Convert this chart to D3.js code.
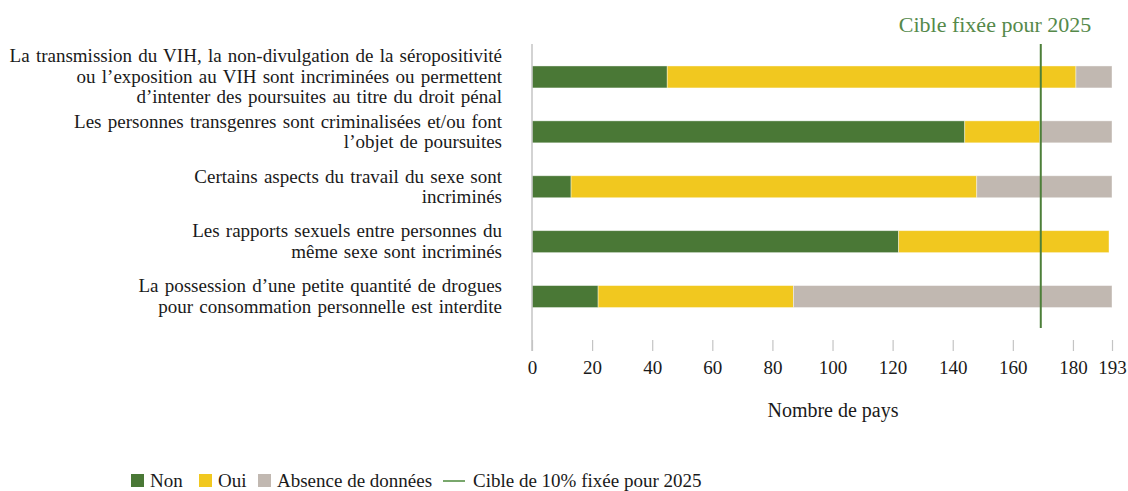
<!DOCTYPE html>
<html>
<head>
<meta charset="utf-8">
<script src="https://cdn.jsdelivr.net/npm/d3@7"></script>
<style>
  body { margin: 0; background: #fff; }
  text { font-family: "Liberation Serif", "Times New Roman", serif; fill: #1a1a1a; }
</style>
</head>
<body>
<div id="chart"></div>
<script>
// categories (one line per array entry)
var categories = [
  ["La transmission du VIH, la non-divulgation de la séropositivité",
   "ou l’exposition au VIH sont incriminées ou permettent",
   "d’intenter des poursuites au titre du droit pénal"],
  ["Les personnes transgenres sont criminalisées et/ou font",
   "l’objet de poursuites"],
  ["Certains aspects du travail du sexe sont",
   "incriminés"],
  ["Les rapports sexuels entre personnes du",
   "même sexe sont incriminés"],
  ["La possession d’une petite quantité de drogues",
   "pour consommation personnelle est interdite"]
];
var nonValues = [45, 144, 13, 122, 22];
var ouiValues = [136, 25, 135, 70, 65];
var absenceValues = [12, 24, 45, 0, 106];
var seriesNames = ["Non", "Oui", "Absence de données"];
var seriesColors = ["#4a7836", "#f1c81f", "#c1b8b1"];
var tickValues = [0, 20, 40, 60, 80, 100, 120, 140, 160, 180, 193];
var targetValue = 169.3;

var svgWidth = 1128, svgHeight = 491;

var svg = d3.select("#chart").append("svg")
  .attr("width", svgWidth)
  .attr("height", svgHeight);

var x = d3.scaleLinear().domain([0, 193]).range([532, 1112]);
var y = d3.scaleBand()
  .domain(d3.range(categories.length))
  .range([49.5, 324])
  .paddingInner(0.6)
  .paddingOuter(0.3);

// stacked data
var rows = categories.map(function(c, i) {
  return { i: i, Non: nonValues[i], Oui: ouiValues[i], "Absence de données": absenceValues[i] };
});
var stack = d3.stack().keys(seriesNames)(rows);

svg.append("g").selectAll("g")
  .data(stack)
  .enter().append("g")
  .attr("fill", (d, k) => seriesColors[k])
  .selectAll("rect")
  .data(d => d)
  .enter().append("rect")
  .attr("x", d => x(d[0]))
  .attr("y", d => y(d.data.i))
  .attr("width", d => x(d[1]) - x(d[0]))
  .attr("height", y.bandwidth())
  .attr("stroke", "#ffffff")
  .attr("stroke-opacity", 0.5)
  .attr("stroke-width", 0.8);

// vertical axis line
svg.append("line")
  .attr("x1", x(0)).attr("x2", x(0))
  .attr("y1", 44).attr("y2", 351)
  .attr("stroke", "#c4c4c4")
  .attr("stroke-width", 1.5);

// bottom ticks (no baseline)
var xAxis = d3.axisBottom(x).tickValues(tickValues).tickSize(11).tickPadding(10);
var axisG = svg.append("g")
  .attr("transform", "translate(0,340)")
  .call(xAxis);
axisG.select(".domain").remove();
axisG.selectAll(".tick line").attr("stroke", "#c4c4c4").attr("stroke-width", 1.2);
axisG.selectAll(".tick text")
  .style("font-family", "'Liberation Serif', serif")
  .style("font-size", "19px")
  .attr("fill", "#1a1a1a");

svg.append("text")
  .attr("x", 833).attr("y", 417)
  .attr("text-anchor", "middle")
  .style("font-size", "20px")
  .text("Nombre de pays");

// category labels
var lineH = 20.5;
var labelG = svg.append("g");
categories.forEach(function(lines, i) {
  var cy = y(i) + y.bandwidth() / 2;
  var t = labelG.append("text")
    .attr("text-anchor", "end")
    .style("font-size", "19px")
    .style("word-spacing", "1.5px");
  lines.forEach(function(l, j) {
    t.append("tspan")
      .attr("x", 502)
      .attr("y", cy + (j - (lines.length - 1) / 2) * lineH + 6)
      .text(l);
  });
});

// target line
svg.append("line")
  .attr("x1", x(targetValue)).attr("x2", x(targetValue))
  .attr("y1", 44).attr("y2", 328)
  .attr("stroke", "#4d7f39")
  .attr("stroke-width", 2);

svg.append("text")
  .attr("x", 995).attr("y", 32)
  .attr("text-anchor", "middle")
  .style("font-size", "22px")
  .style("fill", "#55894a")
  .text("Cible fixée pour 2025");

// legend
var legend = svg.append("g").attr("transform", "translate(131,474)");
var lx = [0, 68, 127];
seriesNames.forEach(function(name, k) {
  legend.append("rect")
    .attr("x", lx[k]).attr("y", 0)
    .attr("width", 13).attr("height", 13)
    .attr("fill", seriesColors[k]);
  legend.append("text")
    .attr("x", lx[k] + 19).attr("y", 13)
    .style("font-size", "19px")
    .text(name);
});
legend.append("line")
  .attr("x1", 312).attr("x2", 334)
  .attr("y1", 7).attr("y2", 7)
  .attr("stroke", "#4d8a3b").attr("stroke-width", 1.5);
legend.append("text")
  .attr("x", 342).attr("y", 13)
  .style("font-size", "19px")
  .text("Cible de 10% fixée pour 2025");
</script>
</body>
</html>
